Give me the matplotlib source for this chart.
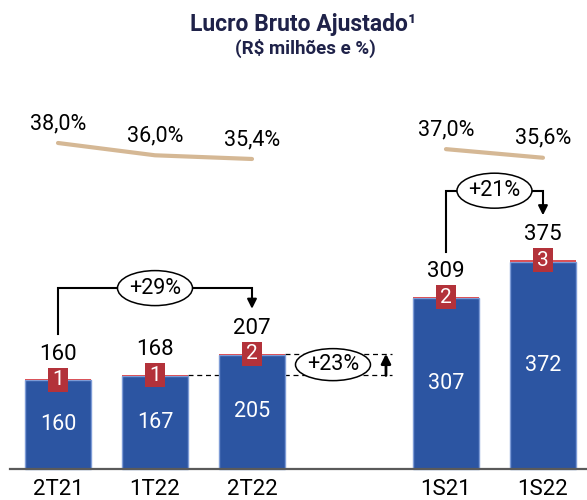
import matplotlib.pyplot as plt
from matplotlib.patches import Ellipse, Rectangle

# data
categories = ['2T21', '1T22', '2T22', '1S21', '1S22']
x_pos = [0, 1, 2, 4, 5]
base_values = [160, 167, 205, 307, 372]
extra_values = [1, 1, 2, 2, 3]
totals = [160, 168, 207, 309, 375]
badges = ['1', '1', '2', '2', '3']

margin_groups = [([0, 1, 2], [38.0, 36.0, 35.4]), ([4, 5], [37.0, 35.6])]

# growth brackets: (label, from index, to index)
growth = [('+29%', 0, 2), ('+21%', 3, 4)]
growth_qoq = ('+23%', 1, 2)

BLUE = '#2c55a2'
RED = '#b3323a'
TAN = '#d5b895'
NAVY = '#1f2249'

plt.rcParams['font.family'] = ['Roboto', 'DejaVu Sans']

fig = plt.figure(figsize=(5.87, 5.0), dpi=100)
ax = fig.add_axes([0, 0, 1, 1])
ax.axis('off')
ax.set_xlim(-0.598, 5.454)
ax.set_ylim(-55.7, 842.6)

# pixel -> data conversions
PX_X = 1 / 97
PX_Y = 1 / 0.5566

bar_w = 0.69
ax.bar(x_pos, base_values, width=bar_w, color=BLUE, edgecolor='#7d9bd6', linewidth=1, zorder=3)
ax.bar(x_pos, extra_values, width=bar_w, bottom=base_values, color='#d9535a',
       linewidth=0, zorder=3)

# baseline
ax.plot([-48 * PX_X, 5.454], [0, 0], color='#5a5a5a', lw=1.6, zorder=4)

for x, b, t, bd, cat in zip(x_pos, base_values, totals, badges, categories):
    ax.text(x, b / 2, str(b), color='white', fontsize=15.5, ha='center', va='center', zorder=5)
    ax.annotate(str(t), (x, t), xytext=(0, 18.5), textcoords='offset points',
                fontsize=16, ha='center', va='center', zorder=5)
    ax.add_patch(Rectangle((x - 10 * PX_X, t - 12 * PX_Y), 20 * PX_X, 24 * PX_Y,
                           facecolor=RED, edgecolor='none', zorder=5))
    ax.text(x, t, bd, color='white', fontsize=15, ha='center', va='center', zorder=6)
    ax.text(x, -21 * PX_Y, cat, fontsize=16, ha='center', va='center')

# margin line on its own scale
ax2 = fig.add_axes([0, 0, 1, 1], sharex=ax)
ax2.axis('off')
ax2.patch.set_alpha(0)
ax2.set_ylim(-20.05, 61.25)
for xs, ms in margin_groups:
    ax2.plot(xs, ms, color=TAN, lw=3, solid_capstyle='round')
    for x, m in zip(xs, ms):
        ax2.annotate(f'{m:.1f}%'.replace('.', ','), (x, m), xytext=(0, 14),
                     textcoords='offset points', fontsize=15.5, ha='center', va='center')

# brackets between periods
bracket_tops = [325, 500]
for (label, i0, i1), top in zip(growth, bracket_tops):
    x0, x1 = x_pos[i0], x_pos[i1]
    y0 = totals[i0] + 45.5 * PX_Y
    tip = totals[i1] + 45 * PX_Y
    ax.plot([x0, x0, x1, x1], [y0, top, top, tip + 8 * PX_Y], color='black', lw=1.5,
            solid_joinstyle='miter', zorder=6)
    ax.annotate('', xy=(x1, tip), xytext=(x1, tip + 10 * PX_Y),
                arrowprops=dict(arrowstyle='-|>', color='black', lw=1.5, mutation_scale=14,
                                shrinkA=0, shrinkB=0), zorder=6)
    xc = (x0 + x1) / 2
    ax.add_patch(Ellipse((xc, top), 75 * PX_X, 35 * PX_Y, facecolor='white',
                         edgecolor='black', lw=1.1, zorder=7))
    ax.text(xc, top, label, fontsize=15.5, ha='center', va='center', zorder=8)

# quarter-over-quarter comparison
label, i0, i1 = growth_qoq
x_end = (392 - 58) * PX_X
ax.plot([x_pos[i1] + bar_w / 2, x_end], [totals[i1]] * 2, color='black', lw=0.9,
        ls=(0, (4, 3)), zorder=2)
ax.plot([x_pos[i0] + bar_w / 2, x_end], [totals[i0]] * 2, color='black', lw=0.9,
        ls=(0, (4, 3)), zorder=2)
ax.add_patch(Ellipse(((333 - 58) * PX_X, (totals[i0] + totals[i1]) / 2), 75 * PX_X, 32 * PX_Y,
                     facecolor='white', edgecolor='black', lw=1.1, zorder=7))
ax.text((333 - 58) * PX_X, (totals[i0] + totals[i1]) / 2, label, fontsize=15.5,
        ha='center', va='center', zorder=8)
ax.annotate('', xy=((386 - 58) * PX_X, totals[i1]), xytext=((386 - 58) * PX_X, totals[i0]),
            arrowprops=dict(arrowstyle='-|>', color='black', lw=2, mutation_scale=14,
                            shrinkA=0, shrinkB=0), zorder=6)

# titles
fig.text(303 / 587, 1 - 24 / 500, 'Lucro Bruto Ajustado¹', fontsize=16.5, fontweight='bold',
         color=NAVY, ha='center', va='center')
fig.text(305 / 587, 1 - 48 / 500, '(R$ milhões e %)', fontsize=13.5, fontweight='bold',
         color=NAVY, ha='center', va='center')

fig.savefig('out.png', dpi=100)
